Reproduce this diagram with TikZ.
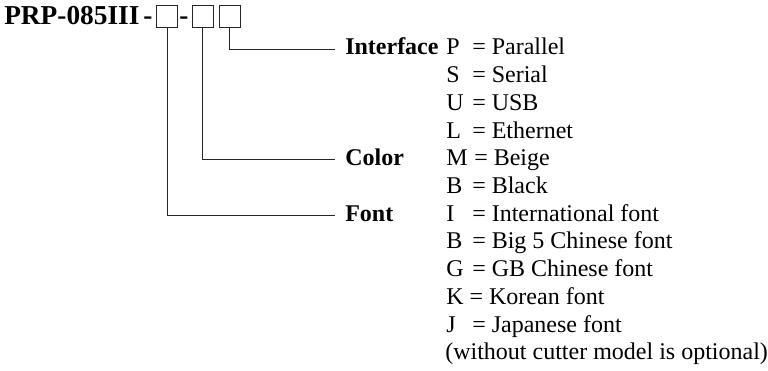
\documentclass[tikz,border=0pt]{standalone}
\usepackage{fontspec}
\setmainfont{Liberation Serif}
\usetikzlibrary{positioning}

\begin{document}
\begin{tikzpicture}[x=0.75pt, y=-0.75pt,
        slot/.style = {draw=black!85, line width=0.7pt, minimum width=15.75pt, minimum height=16.5pt, inner sep=0pt},
        lead/.style = {draw=black!85, line width=0.7pt},
        title/.style = {anchor=base west, inner sep=0pt, font=\fontsize{20.5}{24}\selectfont\bfseries},
        field/.style = {anchor=base west, inner xsep=7.5pt, inner ysep=0pt, text height=1.15em, text depth=0.25em, font=\fontsize{18}{20}\selectfont\bfseries},
        entry/.style = {anchor=base west, inner sep=0pt, font=\fontsize{18}{20}\selectfont}]
    \useasboundingbox (0,0) rectangle (768,371);
    \node[title] (model) at (4,24.5) {PRP-085III};
    \node[title] (dash0) at (143,24.5) {-};
    \node[slot] (b1) at (167,16) {};
    \node[title] (dash) at (179,24.5) {-};
    \node[slot] (b2) at (202.5,16) {};
    \node[slot] (b3) at (229.5,16) {};
    \node[field] (iface) at (335,55) {Interface};
    \node[field] (color) at (335,165.8) {Color};
    \node[field] (font) at (335,221.2) {Font};
    \draw[lead] (b3.south) |- (iface.west);
    \draw[lead] (b2.south) |- (color.west);
    \draw[lead] (b1.south) |- (font.west);
    \foreach \k/\w/\v [count=\i from 0] in {P/19.5/Parallel, S/19.5/Serial, U/19.5/USB, L/19.5/Ethernet,
            M/21/Beige, B/19.5/Black, I/19.5/International font, B/19.5/Big 5 Chinese font,
            G/19.5/GB Chinese font, K/17.5/Korean font, J/19.5/Japanese font}
        \node[entry] (r\i) at (446,{55+27.7*\i}) {\makebox[\w pt][l]{\k}= \v};
    \node[entry] (r11) at (445,359.7) {(without cutter model is optional)};
\end{tikzpicture}
\end{document}
